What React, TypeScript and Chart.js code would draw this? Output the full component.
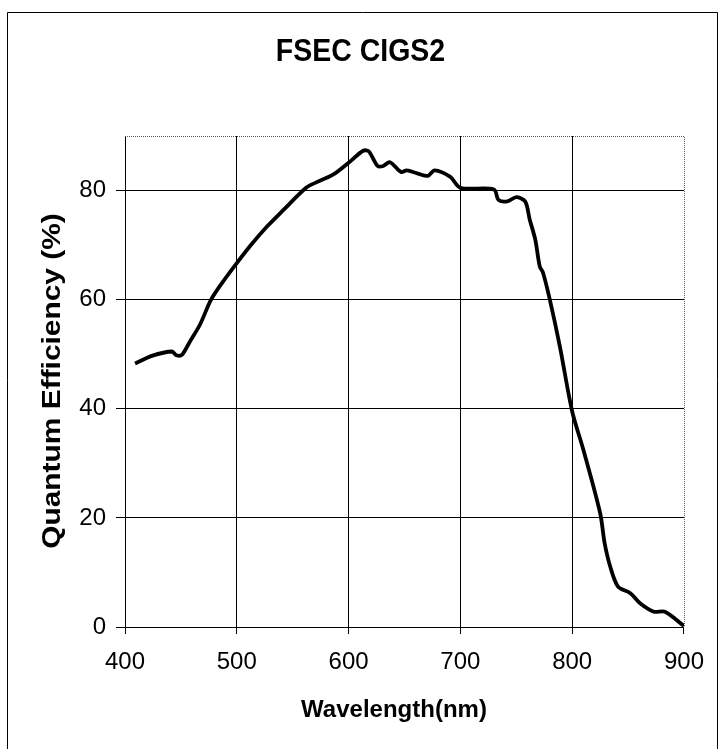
import React, { useEffect, useRef } from "react";
import { Chart, registerables } from "chart.js";

Chart.register(...registerables);

const wavelengths = [409, 424, 442, 446, 451, 458, 467, 477, 488, 500, 513, 527, 542, 562, 571, 586, 600, 613, 618, 626, 631, 637, 647, 652, 662, 671, 677, 691, 700, 730, 734, 742, 750, 758, 762, 767, 771, 774, 780, 789, 800, 810, 825, 829, 834, 841, 852, 861, 873, 883, 900];
const efficiency = [48.3, 49.7, 50.5, 49.8, 49.9, 52.3, 55.4, 60, 63.4, 66.7, 70.1, 73.4, 76.5, 80.5, 81.5, 82.9, 85.1, 87.3, 87.2, 84.5, 84.5, 85.2, 83.4, 83.7, 83.1, 82.7, 83.7, 82.5, 80.5, 80.2, 78.3, 78, 78.8, 78, 74.7, 71, 66.1, 64.9, 60, 51.4, 39.5, 32.5, 20.9, 15.4, 11.1, 7.4, 6.2, 4.3, 2.8, 2.8, 0.2];
const yTicks = [0, 20, 40, 60, 80];
const chartTitle = "FSEC CIGS2";
const xTitle = "Wavelength(nm)";
const yTitle = "Quantum Efficiency (%)";

const FONT = "'Liberation Sans', Arial, sans-serif";

const decor = {
  id: "decor",
  afterDraw(chart: any) {
    const { ctx, chartArea } = chart;
    ctx.save();
    // outer frame
    ctx.strokeStyle = "#000";
    ctx.lineWidth = 1;
    ctx.beginPath();
    ctx.moveTo(7.5, 749);
    ctx.lineTo(7.5, 12.5);
    ctx.lineTo(717.5, 12.5);
    ctx.lineTo(717.5, 749);
    ctx.stroke();
    // dotted top/right plot border
    ctx.strokeStyle = "#555";
    ctx.setLineDash([1, 1]);
    ctx.beginPath();
    ctx.moveTo(chartArea.left, chartArea.top + 0.5);
    ctx.lineTo(chartArea.right + 0.5, chartArea.top + 0.5);
    ctx.lineTo(chartArea.right + 0.5, chartArea.bottom);
    ctx.stroke();
    ctx.setLineDash([]);
    // texts
    ctx.fillStyle = "#000";
    ctx.textAlign = "center";
    ctx.textBaseline = "middle";

    ctx.save();
    ctx.translate(360.5, 52);
    ctx.scale(0.89, 1);
    ctx.font = `bold 32px ${FONT}`;
    ctx.fillText(chartTitle, 0, 0);
    ctx.restore();

    ctx.save();
    ctx.font = `bold 24px ${FONT}`;
    ctx.fillText(xTitle, 394, 710);
    ctx.restore();

    ctx.save();
    ctx.translate(53, 381);
    ctx.rotate(-Math.PI / 2);
    ctx.scale(1.15, 1);
    ctx.font = `bold 26px ${FONT}`;
    ctx.fillText(yTitle, 0, 0);
    ctx.restore();

    ctx.restore();
  },
};

export default function App() {
  const ref = useRef<HTMLCanvasElement>(null);
  useEffect(() => {
    const chart = new Chart(ref.current!, {
      type: "line",
      data: {
        datasets: [
          {
            data: wavelengths.map((w, i) => ({ x: w, y: efficiency[i] })),
            borderColor: "#000",
            borderWidth: 3.8,
            pointRadius: 0,
            tension: 0.3,
            fill: false,
          },
        ],
      },
      options: {
        animation: false,
        responsive: false,
        layout: { padding: { top: 136, right: 34, left: 0, bottom: 0 } },
        plugins: { legend: { display: false }, title: { display: false }, tooltip: { enabled: false } },
        scales: {
          x: {
            type: "linear",
            min: 400,
            max: 900,
            afterFit: (s: any) => { s.height = 122; },
            ticks: { stepSize: 100, color: "#000", font: { family: FONT, size: 24 }, padding: 14, maxRotation: 0 },
            grid: {
              color: (c: any) => (c.tick && c.tick.value === 900 ? "rgba(0,0,0,0)" : "#000"),
              tickColor: "#000",
              tickLength: 7,
              lineWidth: 1,
            },
            border: { color: "#000", width: 1 },
          },
          y: {
            min: 0,
            max: 90,
            afterFit: (s: any) => { s.width = 125; },
            afterBuildTicks: (s: any) => { s.ticks = yTicks.map((v) => ({ value: v })); },
            ticks: { color: "#000", font: { family: FONT, size: 24 }, padding: 10 },
            grid: { color: "#000", tickColor: "#000", tickLength: 9, lineWidth: 1 },
            border: { color: "#000", width: 1 },
          },
        },
      },
      plugins: [decor],
    });
    return () => chart.destroy();
  }, []);
  return (
    <div style={{ position: "fixed", left: 0, top: 0, width: 718, height: 749, background: "#fff" }}>
      <canvas ref={ref} width={718} height={749} style={{ display: "block" }} />
    </div>
  );
}
